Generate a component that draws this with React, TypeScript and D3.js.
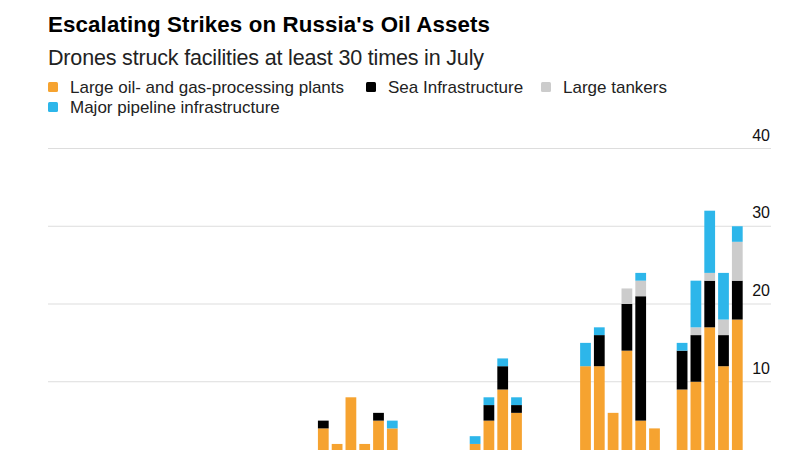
import { useEffect, useRef } from "react";
import * as d3 from "d3";

// days shown on the x axis: 11 June to 31 July
const days: string[] = [
  ...d3.range(11, 31).map((d) => `2024-06-${String(d).padStart(2, "0")}`),
  ...d3.range(1, 32).map((d) => `2024-07-${String(d).padStart(2, "0")}`),
];

// strikes per day by facility type (June days are all zero)
const junePad = d3.range(20).map(() => 0);
const plants = [...junePad, 4, 2, 8, 2, 5, 4, 0, 0, 1, 1, 0, 2, 5, 9, 6, 0, 0, 1, 0, 12, 12, 6, 14, 5, 4, 0, 9, 10, 17, 12, 18];
const sea = [...junePad, 1, 0, 0, 0, 1, 0, 0, 0, 0, 0, 0, 0, 2, 3, 1, 0, 0, 0, 0, 0, 4, 0, 6, 16, 0, 0, 5, 6, 6, 4, 5];
const tankers = [...junePad, 0, 0, 0, 0, 0, 0, 0, 0, 0, 0, 0, 0, 0, 0, 0, 0, 0, 0, 0, 0, 0, 0, 2, 2, 0, 0, 0, 1, 1, 2, 5];
const pipelines = [...junePad, 0, 0, 0, 0, 0, 1, 0, 0, 0, 0, 0, 1, 1, 1, 1, 0, 0, 0, 0, 3, 1, 0, 0, 1, 0, 0, 1, 6, 8, 6, 2];

const seriesKeys = ["plants", "sea", "tankers", "pipelines"];
const seriesLabels = [
  "Large oil- and gas-processing plants",
  "Sea Infrastructure",
  "Large tankers",
  "Major pipeline infrastructure",
];
const seriesColors = ["#f6a330", "#000000", "#cccccc", "#2db6ea"];
const yTicks = [10, 20, 30, 40];

const font = "'Liberation Sans', Arial, sans-serif";

export default function App() {
  const svgRef = useRef<SVGSVGElement>(null);

  useEffect(() => {
    document.body.style.margin = "0";
    document.body.style.overflow = "hidden";

    const svg = d3.select(svgRef.current);
    svg.selectAll("*").remove();

    const rows = days.map((day, i) => ({
      day,
      plants: plants[i],
      sea: sea[i],
      tankers: tankers[i],
      pipelines: pipelines[i],
    }));

    const x = d3.scaleBand<string>()
      .domain(days)
      .range([40.4, 744.2])
      .paddingInner(0.22)
      .paddingOuter(0.11);

    const y = d3.scaleLinear().domain([0, 40]).range([459.5, 148.5]);

    const color = d3.scaleOrdinal<string, string>().domain(seriesKeys).range(seriesColors);

    // title block
    svg.append("text")
      .attr("x", 48).attr("y", 31.5)
      .attr("textLength", 442).attr("lengthAdjust", "spacing")
      .attr("font-family", font).attr("font-weight", "bold")
      .attr("font-size", 22.3).attr("fill", "#000")
      .text("Escalating Strikes on Russia's Oil Assets");

    svg.append("text")
      .attr("x", 48).attr("y", 65)
      .attr("textLength", 436).attr("lengthAdjust", "spacing")
      .attr("font-family", font).attr("font-size", 21.5).attr("fill", "#222")
      .text("Drones struck facilities at least 30 times in July");

    // legend
    const legendPos = [
      [48, 87], [366, 87], [541, 87], [48, 107],
    ];
    seriesKeys.forEach((k, i) => {
      const [lx, ly] = legendPos[i];
      svg.append("rect")
        .attr("x", lx).attr("y", ly - 5).attr("width", 10).attr("height", 10)
        .attr("rx", 1.5).attr("fill", color(k));
      svg.append("text")
        .attr("x", lx + 22).attr("y", ly + 5.8)
        .attr("font-family", font).attr("font-size", 17).attr("fill", "#222")
        .text(seriesLabels[i]);
    });

    // gridlines + right-hand labels
    const grid = svg.append("g");
    yTicks.forEach((t) => {
      grid.append("line")
        .attr("x1", 48).attr("x2", 771)
        .attr("y1", y(t)).attr("y2", y(t))
        .attr("stroke", "#dddddd").attr("stroke-width", 1.2);
      grid.append("text")
        .attr("x", 770).attr("y", y(t) - 8)
        .attr("text-anchor", "end")
        .attr("font-family", font).attr("font-size", 16).attr("fill", "#111")
        .text(t);
    });

    // stacked bars
    const stacked = d3.stack<any>().keys(seriesKeys)(rows);
    svg.append("g")
      .selectAll("g")
      .data(stacked)
      .join("g")
      .attr("fill", (s) => color(s.key))
      .selectAll("rect")
      .data((s) => s.filter((d) => d[1] - d[0] > 0))
      .join("rect")
      .attr("x", (d) => x(d.data.day) || 0)
      .attr("width", x.bandwidth())
      .attr("y", (d) => y(d[1]))
      .attr("height", (d) => y(d[0]) - y(d[1]));
  }, []);

  return (
    <svg
      ref={svgRef}
      width={800}
      height={450}
      style={{ display: "block", position: "fixed", left: 0, top: 0, background: "#fff" }}
    />
  );
}
